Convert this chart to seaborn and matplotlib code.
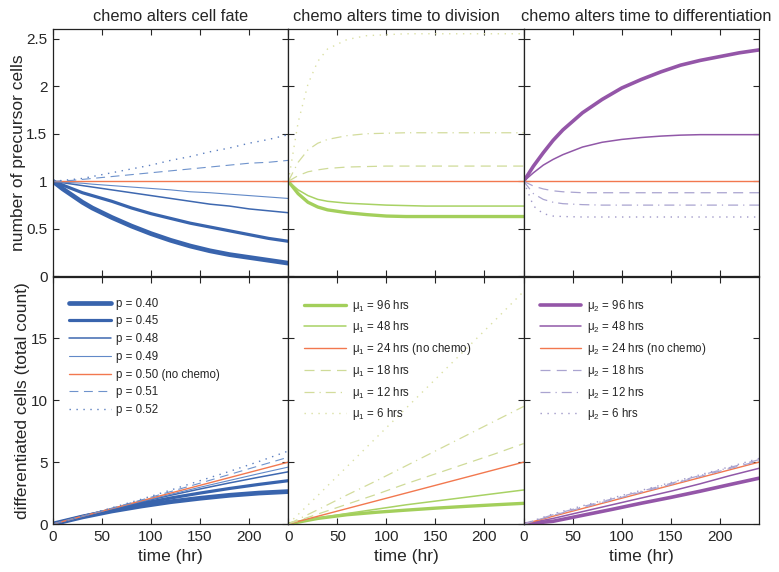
import numpy as np
import pandas as pd
import seaborn as sns
import matplotlib.pyplot as plt
from matplotlib.ticker import FuncFormatter

sns.set_style('ticks')
plt.rcParams['font.family'] = ['Liberation Sans', 'DejaVu Sans']
plt.rcParams['mathtext.fontset'] = 'custom'
plt.rcParams['mathtext.rm'] = 'Liberation Sans'

# time grids (hr)
t_top = [0, 10, 20, 30, 40, 60, 80, 100, 120, 140, 160, 180, 200, 220, 240]
t_bot = [0, 30, 60, 90, 120, 150, 180, 210, 240]

# --- chemo alters cell fate (p) ---
fate_labels = ['p = 0.40', 'p = 0.45', 'p = 0.48', 'p = 0.49', 'p = 0.50 (no chemo)', 'p = 0.51', 'p = 0.52']
fate_prec = [
    [1, 0.92, 0.85, 0.78, 0.72, 0.62, 0.53, 0.45, 0.38, 0.32, 0.27, 0.23, 0.20, 0.17, 0.14],
    [1, 0.96, 0.92, 0.88, 0.85, 0.79, 0.72, 0.66, 0.61, 0.56, 0.52, 0.48, 0.44, 0.40, 0.37],
    [1, 0.985, 0.97, 0.955, 0.94, 0.91, 0.88, 0.85, 0.82, 0.79, 0.76, 0.74, 0.71, 0.69, 0.67],
    [1, 0.99, 0.985, 0.98, 0.97, 0.955, 0.94, 0.925, 0.91, 0.89, 0.88, 0.865, 0.85, 0.835, 0.82],
    [1, 1, 1, 1, 1, 1, 1, 1, 1, 1, 1, 1, 1, 1, 1],
    [1, 1.005, 1.01, 1.02, 1.03, 1.05, 1.07, 1.09, 1.11, 1.13, 1.15, 1.17, 1.19, 1.20, 1.22],
    [1, 1.01, 1.02, 1.03, 1.05, 1.09, 1.13, 1.17, 1.22, 1.26, 1.31, 1.35, 1.40, 1.44, 1.49],
]
fate_diff = [
    [0, 0.57, 1.05, 1.45, 1.80, 2.08, 2.32, 2.50, 2.62],
    [0, 0.60, 1.15, 1.65, 2.10, 2.50, 2.87, 3.20, 3.50],
    [0, 0.62, 1.21, 1.78, 2.32, 2.83, 3.32, 3.78, 4.22],
    [0, 0.62, 1.23, 1.82, 2.40, 2.97, 3.52, 4.07, 4.60],
    [0, 0.625, 1.25, 1.875, 2.5, 3.125, 3.75, 4.375, 5.0],
    [0, 0.63, 1.28, 1.94, 2.62, 3.30, 4.00, 4.70, 5.40],
    [0, 0.64, 1.31, 2.00, 2.74, 3.50, 4.25, 5.05, 5.90],
]

# --- chemo alters time to division (mu1) ---
div_labels = ['μ$_1$ = 96 hrs', 'μ$_1$ = 48 hrs', 'μ$_1$ = 24 hrs (no chemo)', 'μ$_1$ = 18 hrs', 'μ$_1$ = 12 hrs', 'μ$_1$ = 6 hrs']
div_prec = [
    [1, 0.87, 0.78, 0.73, 0.70, 0.67, 0.65, 0.635, 0.63, 0.63, 0.63, 0.63, 0.63, 0.63, 0.63],
    [1, 0.91, 0.85, 0.81, 0.79, 0.77, 0.76, 0.75, 0.745, 0.74, 0.74, 0.74, 0.74, 0.74, 0.74],
    [1, 1, 1, 1, 1, 1, 1, 1, 1, 1, 1, 1, 1, 1, 1],
    [1, 1.06, 1.10, 1.12, 1.135, 1.15, 1.155, 1.16, 1.16, 1.16, 1.16, 1.16, 1.16, 1.16, 1.16],
    [1, 1.20, 1.33, 1.40, 1.44, 1.48, 1.50, 1.505, 1.51, 1.51, 1.51, 1.51, 1.51, 1.51, 1.51],
    [1, 1.62, 2.02, 2.26, 2.39, 2.49, 2.53, 2.54, 2.55, 2.55, 2.55, 2.55, 2.55, 2.55, 2.55],
]
div_diff = [
    [0, 0.45, 0.75, 0.95, 1.12, 1.28, 1.42, 1.55, 1.67],
    [0, 0.48, 0.85, 1.20, 1.55, 1.85, 2.15, 2.45, 2.75],
    [0, 0.625, 1.25, 1.875, 2.5, 3.125, 3.75, 4.375, 5.0],
    [0, 0.80, 1.60, 2.40, 3.25, 4.05, 4.85, 5.65, 6.50],
    [0, 1.15, 2.35, 3.50, 4.70, 5.90, 7.10, 8.30, 9.50],
    [0, 2.30, 4.65, 7.00, 9.35, 11.70, 14.05, 16.40, 18.80],
]

# --- chemo alters time to differentiation (mu2) ---
dif_labels = ['μ$_2$ = 96 hrs', 'μ$_2$ = 48 hrs', 'μ$_2$ = 24 hrs (no chemo)', 'μ$_2$ = 18 hrs', 'μ$_2$ = 12 hrs', 'μ$_2$ = 6 hrs']
dif_prec = [
    [1, 1.16, 1.30, 1.43, 1.54, 1.72, 1.86, 1.98, 2.07, 2.15, 2.22, 2.27, 2.31, 2.35, 2.38],
    [1, 1.09, 1.17, 1.23, 1.28, 1.36, 1.41, 1.44, 1.46, 1.475, 1.485, 1.49, 1.49, 1.49, 1.49],
    [1, 1, 1, 1, 1, 1, 1, 1, 1, 1, 1, 1, 1, 1, 1],
    [1, 0.95, 0.92, 0.90, 0.89, 0.88, 0.88, 0.88, 0.88, 0.88, 0.88, 0.88, 0.88, 0.88, 0.88],
    [1, 0.87, 0.81, 0.78, 0.765, 0.755, 0.75, 0.75, 0.75, 0.75, 0.75, 0.75, 0.75, 0.75, 0.75],
    [1, 0.74, 0.66, 0.635, 0.63, 0.625, 0.625, 0.625, 0.625, 0.625, 0.625, 0.625, 0.625, 0.625, 0.625],
]
dif_diff = [
    [0, 0.22, 0.70, 1.18, 1.68, 2.15, 2.65, 3.18, 3.70],
    [0, 0.45, 1.00, 1.55, 2.10, 2.65, 3.25, 3.90, 4.50],
    [0, 0.625, 1.25, 1.875, 2.5, 3.125, 3.75, 4.375, 5.0],
    [0, 0.70, 1.33, 1.95, 2.58, 3.20, 3.85, 4.48, 5.10],
    [0, 0.75, 1.40, 2.02, 2.65, 3.28, 3.92, 4.56, 5.20],
    [0, 0.82, 1.47, 2.10, 2.72, 3.35, 3.98, 4.62, 5.30],
]

titles = ['chemo alters cell fate', 'chemo alters time to division', 'chemo alters time to differentiation']
title_x = [0.5, 0.46, 0.52]

# line styles: (color, linewidth, linestyle)
orange = '#f2784f'
fate_sty = [('#3964ad', 3.4, '-'), ('#3964ad', 2.3, '-'), ('#3e68b0', 1.1, '-'), ('#6189c8', 0.8, '-'),
            (orange, 1.0, '-'), ('#6f93cc', 0.8, (0, (8, 5))), ('#5b7fc0', 1.0, (0, (1, 4)))]
div_sty = [('#a3cf5b', 2.4, '-'), ('#a8d264', 1.1, '-'), (orange, 1.0, '-'),
           ('#cfdb98', 0.9, (0, (8, 5))), ('#d3dc9c', 0.9, (0, (8, 4, 1, 4))), ('#dbe0a4', 1.0, (0, (1, 4)))]
dif_sty = [('#9456a8', 2.6, '-'), ('#9158a8', 1.1, '-'), (orange, 1.0, '-'),
           ('#aaa4d0', 0.9, (0, (8, 5))), ('#aaa4d0', 0.9, (0, (8, 4, 1, 4))), ('#9f98c8', 1.0, (0, (1, 4)))]

panels = [(fate_labels, fate_prec, fate_diff, fate_sty),
          (div_labels, div_prec, div_diff, div_sty),
          (dif_labels, dif_prec, dif_diff, dif_sty)]

fig, axes = plt.subplots(2, 3, figsize=(7.79, 5.72), dpi=100, sharex=True, sharey='row')
fig.subplots_adjust(left=53/779, right=759/779, top=1-29/572, bottom=1-524/572, wspace=0, hspace=0)

for j, (labels, prec, diff, sty) in enumerate(panels):
    ax_t = axes[0, j]
    ax_b = axes[1, j]
    for k in range(len(labels)):
        c, lw, ls = sty[k]
        sns.lineplot(x=t_top, y=prec[k], ax=ax_t, color=c, linewidth=lw, linestyle=ls)
        sns.lineplot(x=t_bot, y=diff[k], ax=ax_b, color=c, linewidth=lw, linestyle=ls, label=labels[k])
    ax_t.set_title(titles[j], fontsize=11.8, pad=6, x=title_x[j])
    ax_b.legend(loc='upper left', bbox_to_anchor=(0.0, 0.98), frameon=False, fontsize=8.3,
                handlelength=3.6, labelspacing=0.5, borderaxespad=1.0, handletextpad=0.5)
    ax_b.set_xlabel('time (hr)', fontsize=12.5, labelpad=4)

fmt = FuncFormatter(lambda v, p: '%g' % v)
for ax in axes.flat:
    ax.set_xlim(0, 240)
    ax.set_xticks([0, 50, 100, 150, 200])
    ax.tick_params(direction='in', top=True, right=True, length=4, width=0.8, labelsize=11, pad=4)
    for s in ax.spines.values():
        s.set_linewidth(0.9)
        s.set_color('#222222')
    ax.set_ylabel('')

axes[0, 0].set_ylim(0, 2.6)
axes[0, 0].set_yticks([0, 0.5, 1, 1.5, 2, 2.5])
axes[0, 0].yaxis.set_major_formatter(fmt)
axes[1, 0].set_ylim(0, 20)
axes[1, 0].set_yticks([0, 5, 10, 15])
axes[0, 0].set_ylabel('number of precursor cells', fontsize=12.5, labelpad=0)
axes[1, 0].set_ylabel('differentiated cells (total count)', fontsize=12.5, labelpad=0)

fig.savefig('out.png', dpi=100)
